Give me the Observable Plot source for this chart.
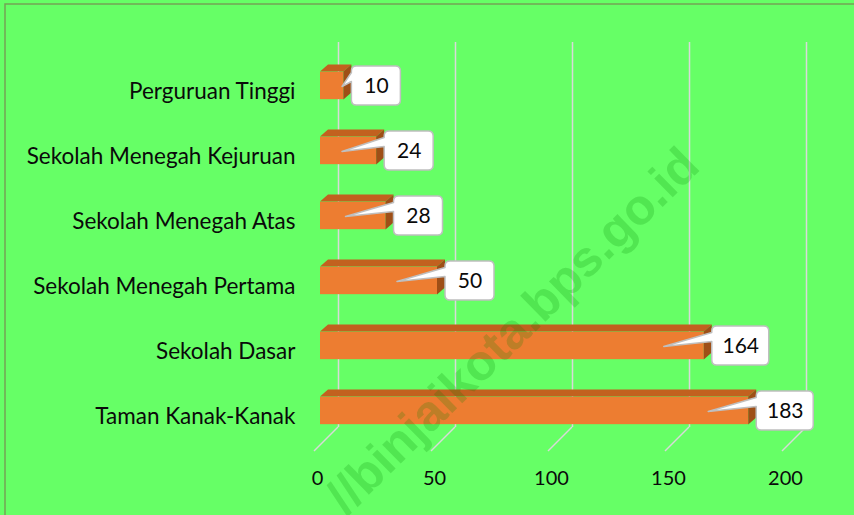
<!DOCTYPE html>
<html><head><meta charset="utf-8">
<script src="https://cdn.jsdelivr.net/npm/d3@7"></script>
<script src="https://cdn.jsdelivr.net/npm/@observablehq/plot@0.6"></script>
<style>html,body{margin:0;padding:0;background:#66ff66;overflow:hidden;} #chart{width:854px;height:515px;}</style>
</head><body><div id="chart"></div>
<script>
const categories = ["Perguruan Tinggi","Sekolah Menegah Kejuruan","Sekolah Menegah Atas","Sekolah Menegah Pertama","Sekolah Dasar","Taman Kanak-Kanak"];
const values = [10, 24, 28, 50, 164, 183];
const tickValues = [0, 50, 100, 150, 200];
const watermark = "//binjaikota.bps.go.id";
const data = categories.map((c, i) => ({category: c, value: values[i]}));

const W = 854, H = 515;
const Y_RANGE = [51, 445];
const STEP = (Y_RANGE[1] - Y_RANGE[0]) / categories.length;
const BAR_H = 28, DX = 8, DY = 7;
const INSET = (STEP - BAR_H) / 2;
const GRID_DX = 18, GRID_TOP = 42, GRID_BOTTOM = 427;
const svgNS = "http://www.w3.org/2000/svg";
function el(tag, attrs) { const e = document.createElementNS(svgNS, tag); for (const k in attrs) e.setAttribute(k, attrs[k]); return e; }
function center(y, c) { return y(c) + (y.bandwidth ? y.bandwidth() / 2 : 0); }
const FONT = "Lato, 'Open Sans', sans-serif";

function slants(index, {x}) {
  const g = el("g", {stroke: "#d9d9d9", "stroke-width": 1.5, fill: "none"});
  for (const t of tickValues) {
    const px = x(t) + GRID_DX;
    g.appendChild(el("path", {d: `M${px},${GRID_BOTTOM}L${px - 24},${GRID_BOTTOM + 24}`}));
  }
  return g;
}
function faces(index, {x, y}) {
  const g = el("g", {});
  for (const d of data) {
    const x0 = x(0), x1 = x(d.value), cy = center(y, d.category);
    const top = cy - BAR_H / 2, bot = cy + BAR_H / 2;
    g.appendChild(el("path", {d: `M${x0},${top}L${x0 + DX},${top - DY}L${x1 + DX},${top - DY}L${x1},${top}Z`, fill: "#c2611f"}));
    g.appendChild(el("path", {d: `M${x1},${top}L${x1 + DX},${top - DY}L${x1 + DX},${bot - DY}L${x1},${bot}Z`, fill: "#9e4f17"}));
  }
  return g;
}
function stamp() {
  const t = el("text", {transform: "translate(512,330) rotate(-44.4)", "text-anchor": "middle", dy: "0.35em",
    "font-family": "'Liberation Sans', Arial, sans-serif", "font-weight": "bold", "font-size": 50,
    fill: "#008000", "fill-opacity": 0.2});
  t.textContent = watermark;
  return t;
}
function callouts(index, {x, y}) {
  const g = el("g", {});
  for (const d of data) {
    const cy = center(y, d.category);
    const w = String(d.value).length > 2 ? 57 : 49, h = 39, r = 5;
    const L = x(d.value) + 8, T = cy - h / 2, R = L + w, B = T + h;
    const tipX = Math.max(x(d.value) - 40, x(0) + 22), tipY = cy + 1;
    const p = `M${L + r},${T}H${R - r}Q${R},${T} ${R},${T + r}V${B - r}Q${R},${B} ${R - r},${B}H${L + r}Q${L},${B} ${L},${B - r}V${cy - 4}L${tipX},${tipY}L${L},${cy - 13}V${T + r}Q${L},${T} ${L + r},${T}Z`;
    g.appendChild(el("path", {d: p, fill: "#ffffff", stroke: "#bfbfbf", "stroke-width": 1.5, "stroke-linejoin": "round"}));
  }
  return g;
}

const chart = Plot.plot({
  width: W, height: H,
  marginTop: 0, marginRight: 0, marginBottom: 0, marginLeft: 0,
  style: {background: "#66ff66", fontFamily: FONT, overflow: "visible"},
  x: {domain: [0, 200], range: [320, 788], axis: null},
  y: {domain: categories, range: Y_RANGE, padding: 0, axis: null},
  marks: [
    Plot.frame({stroke: "#74a456", strokeWidth: 1.5, insetLeft: 4.5, insetTop: 3.5, insetRight: -10, insetBottom: -10}),
    Plot.ruleX(tickValues, {x: d => d, dx: GRID_DX, stroke: "#d9d9d9", strokeWidth: 1.5, insetTop: GRID_TOP, insetBottom: H - GRID_BOTTOM}),
    slants,
    Plot.barX(data, {x: "value", y: "category", fill: "#ed7d31", insetTop: INSET, insetBottom: INSET}),
    faces,
    stamp,
    callouts,
    Plot.text(data.filter(d => d.value < 100), {x: "value", y: "category", text: d => String(d.value), dx: 8 + 24.5, fontSize: 21, fill: "#0a0a0a"}),
    Plot.text(data.filter(d => d.value >= 100), {x: "value", y: "category", text: d => String(d.value), dx: 8 + 28.5, fontSize: 21, fill: "#0a0a0a"}),
    Plot.text(data, {y: "category", text: "category", frameAnchor: "left", dx: 295, dy: 6, textAnchor: "end", fontSize: 22.5, fill: "#0a0a0a"}),
    Plot.text(tickValues, {x: d => d, text: d => String(d), frameAnchor: "bottom", dx: -3, dy: -31, fontSize: 20, fill: "#0a0a0a"})
  ]
});
document.getElementById("chart").appendChild(chart);
</script>
</body></html>
